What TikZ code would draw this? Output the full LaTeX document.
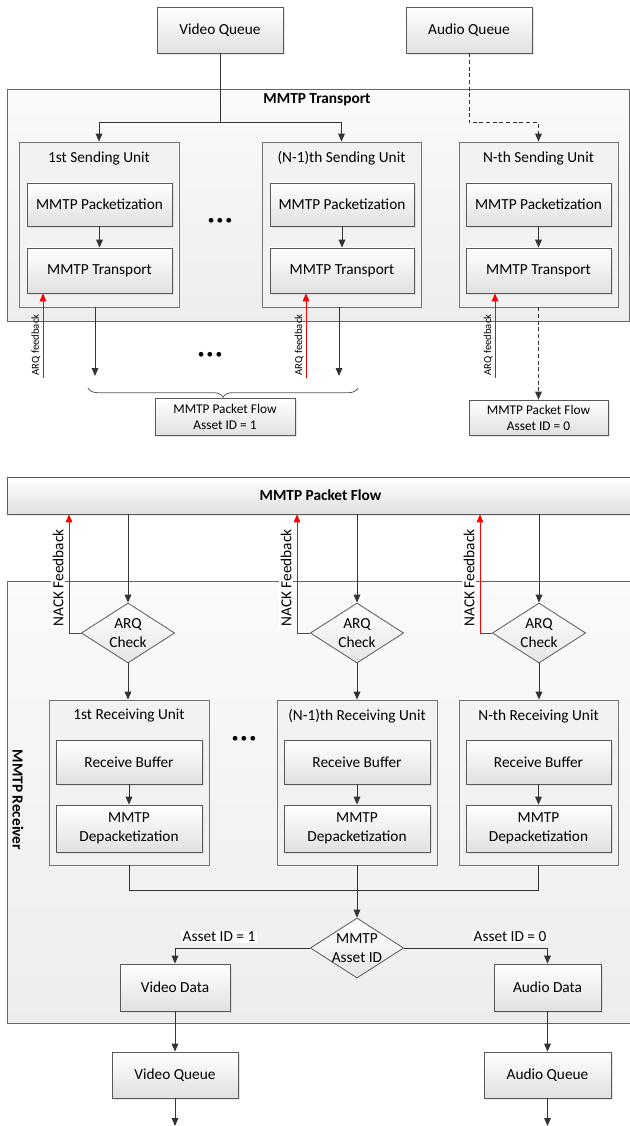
\documentclass[tikz,border=0pt]{standalone}
\usepackage{fontspec}
\setmainfont{Carlito}
\usetikzlibrary{arrows.meta,shapes.geometric,decorations.pathreplacing,shadows}
\newcommand{\mainsize}{\fontsize{11.5}{14}\selectfont}
\newcommand{\smallsize}{\fontsize{10}{12}\selectfont}
\newcommand{\tinysize}{\fontsize{8}{9}\selectfont}

\begin{document}
\begin{tikzpicture}[x=0.75pt,y=-0.75pt,line width=0.6pt,
		every node/.style={font=\mainsize},
		boxsize/.style 2 args={minimum width=#1*0.75pt,minimum height=#2*0.75pt},
		container/.style={draw=black!60,top color=black!2,bottom color=black!7,inner sep=0pt},
		unit/.style={draw=black!55,fill=black!5,inner sep=0pt},
		block/.style={draw=black!65,top color=white,bottom color=black!12,inner sep=0pt,align=center,
			drop shadow={shadow xshift=1.2pt,shadow yshift=-1.2pt,fill=black!20}},
		check/.style={diamond,draw=black!65,top color=white,bottom color=black!10,inner sep=0pt,
			minimum width=70pt,minimum height=45pt},
		link/.style={draw=black!80,line width=0.75pt},
		flow/.style={link,-{Triangle[length=6pt,width=5pt]}},
		dashedflow/.style={flow,dash pattern=on 3pt off 2pt},
		feedback/.style={draw=red,line width=0.75pt,-{Triangle[length=6pt,width=5pt]}},
		tag/.style={fill=white,inner sep=1pt},
		sidetext/.style={rotate=90,fill=white,inner sep=1pt},
		groupbrace/.style={draw=black!65,decorate,decoration={brace,mirror,amplitude=7pt}}]
	\useasboundingbox (0,0) rectangle (630,1126);

	\node [block, boxsize={126}{46}] (vqin) at (220,30) {Video Queue};
	\node [block, boxsize={126}{46}] (aqin) at (469,30) {Audio Queue};
	\node [container, boxsize={622}{232}] (tx) at (318,205) {};
	\node [font=\mainsize\bfseries] (txt) at (317,100) {MMTP Transport};

	\node [unit, boxsize={160}{165}] (su1) at (99,224.5) {};			\node (su1t) at (99,158) {1st Sending Unit};
	\node [block, boxsize={145}{43}] (su1p) at (99.5,204.5) {MMTP Packetization};
	\node [block, boxsize={145}{45}] (su1r) at (99.5,270.5) {MMTP Transport};

	\node [unit, boxsize={159}{165}] (su2) at (341.5,224.5) {};		\node (su2t) at (341.5,158) {(N-1)th Sending Unit};
	\node [block, boxsize={144}{43}] (su2p) at (342,204.5) {MMTP Packetization};
	\node [block, boxsize={144}{45}] (su2r) at (342,270.5) {MMTP Transport};

	\node [unit, boxsize={159}{165}] (su3) at (538.5,224.5) {};		\node (su3t) at (538.5,158) {N-th Sending Unit};
	\node [block, boxsize={145}{43}] (su3p) at (538.5,204.5) {MMTP Packetization};
	\node [block, boxsize={145}{45}] (su3r) at (538.5,270.5) {MMTP Transport};

	\node [font=\smallsize] (dots1) at (220,221) {\textbullet\,\textbullet\,\textbullet};
	\node [font=\smallsize] (dots2) at (210,355) {\textbullet\,\textbullet\,\textbullet};

	\draw [flow] (su1p) -- (su1r);	\draw [flow] (su2p) -- (su2r);	\draw [flow] (su3p) -- (su3r);

	\coordinate (vsplit) at (220,123);	\coordinate (asplit) at (469,123);
	\draw [link] (vqin.south) -- (vsplit);
	\draw [flow] (vsplit) -| (su1.north);
	\draw [flow] (vsplit) -| (su2.north);
	\draw [dashedflow] (aqin.south) -- (asplit) -| (su3.north);

	\node [block, font=\smallsize, boxsize={140}{37}] (pf1) at (225,416.5) {MMTP Packet Flow\\Asset ID = 1};
	\node [block, font=\smallsize, boxsize={139}{35}] (pf0) at (538.5,417.5) {MMTP Packet Flow\\Asset ID = 0};

	\coordinate (out1) at (95,376);		\draw [flow] (su1.south -| out1) -- (out1);
	\coordinate (out2) at (339,376);	\draw [flow] (su2.south -| out2) -- (out2);
	\draw [dashedflow] (su3.south) -- (pf0.north);

	\coordinate (brl) at (88,388);	\coordinate (brr) at (358,388);
	\draw [groupbrace] (brl) -- (brr);

	\coordinate (fb1) at (43,378);	\draw [feedback] (fb1) -- (fb1 |- su1r.south);
	\coordinate (fb2) at (306,378);	\draw [feedback] (fb2) -- (fb2 |- su2r.south);
	\coordinate (fb3) at (495,378);	\draw [feedback] (fb3) -- (fb3 |- su3r.south);
	\node [rotate=90, font=\tinysize] (fb1t) at (36,345) {ARQ feedback};
	\node [rotate=90, font=\tinysize] (fb2t) at (299,345) {ARQ feedback};
	\node [rotate=90, font=\tinysize] (fb3t) at (488,345) {ARQ feedback};

	\node [block, font=\mainsize\bfseries, boxsize={627}{37}] (pflow) at (320.5,495.5) {MMTP Packet Flow};
	\node [container, boxsize={627}{442}] (rx) at (320.5,802) {};
	\node [font=\mainsize\bfseries, rotate=-90] (rxt) at (18,800) {MMTP Receiver};

	\node [check, label={[align=center]center:{ARQ\\Check}}] (chk1) at (128,633) {};
	\node [check, label={[align=center]center:{ARQ\\Check}}] (chk2) at (357,633) {};
	\node [check, label={[align=center]center:{ARQ\\Check}}] (chk3) at (539,633) {};
	\draw [flow] (pflow.south -| chk1) -- (chk1.north);
	\draw [flow] (pflow.south -| chk2) -- (chk2.north);
	\draw [flow] (pflow.south -| chk3) -- (chk3.north);

	\coordinate (nk1) at (69,0);	\draw [feedback] (chk1.west) -| (pflow.south -| nk1);
	\coordinate (nk2) at (297,0);	\draw [feedback] (chk2.west) -| (pflow.south -| nk2);
	\coordinate (nk3) at (480,0);	\draw [feedback] (chk3.west) -| (pflow.south -| nk3);
	\node [sidetext] (nk1t) at (58,578) {NACK Feedback};
	\node [sidetext] (nk2t) at (286,578) {NACK Feedback};
	\node [sidetext] (nk3t) at (469,578) {NACK Feedback};

	\node [unit, boxsize={160}{165}] (ru1) at (129,782.5) {};			\node (ru1t) at (129,716) {1st Receiving Unit};
	\node [block, boxsize={146}{44}] (ru1b) at (129,762) {Receive Buffer};
	\node [block, boxsize={146}{47}] (ru1d) at (129,828.5) {MMTP\\Depacketization};

	\node [unit, boxsize={160}{165}] (ru2) at (357,782.5) {};			\node (ru2t) at (357,716) {(N-1)th Receiving Unit};
	\node [block, boxsize={146}{44}] (ru2b) at (357,762) {Receive Buffer};
	\node [block, boxsize={146}{47}] (ru2d) at (357,828.5) {MMTP\\Depacketization};

	\node [unit, boxsize={159}{165}] (ru3) at (538.5,782.5) {};		\node (ru3t) at (538.5,716) {N-th Receiving Unit};
	\node [block, boxsize={145}{44}] (ru3b) at (538.5,762) {Receive Buffer};
	\node [block, boxsize={145}{47}] (ru3d) at (538.5,828.5) {MMTP\\Depacketization};

	\node [font=\smallsize] (dots3) at (244,739) {\textbullet\,\textbullet\,\textbullet};

	\draw [flow] (chk1.south) -- (chk1.south |- ru1.north);
	\draw [flow] (chk2.south) -- (chk2.south |- ru2.north);
	\draw [flow] (chk3.south) -- (chk3.south |- ru3.north);
	\draw [flow] (ru1b) -- (ru1d);	\draw [flow] (ru2b) -- (ru2d);	\draw [flow] (ru3b) -- (ru3d);

	\node [check, label={[align=center]center:{MMTP\\Asset ID}}] (asset) at (357,948) {};
	\coordinate (merge) at (357,890);
	\draw [link] (ru1.south) |- (merge);
	\draw [link] (ru3.south) |- (merge);
	\draw [flow] (ru2.south) -- (asset.north);

	\node [block, boxsize={110}{47}] (vdat) at (175,987.5) {Video Data};
	\node [block, boxsize={107}{47}] (adat) at (547.5,987.5) {Audio Data};
	\draw [flow] (asset.west) -| (vdat.north);
	\draw [flow] (asset.east) -| (adat.north);
	\node [tag] (id1) at (219,937) {Asset ID = 1};
	\node [tag] (id0) at (510,937) {Asset ID = 0};

	\node [block, boxsize={126}{46}] (vqout) at (175,1075) {Video Queue};
	\node [block, boxsize={127}{46}] (aqout) at (547.5,1075) {Audio Queue};
	\draw [flow] (vdat) -- (vqout);	\draw [flow] (adat) -- (aqout);
	\coordinate (vend) at (175,1126);	\draw [flow] (vqout) -- (vend);
	\coordinate (aend) at (547.5,1126);	\draw [flow] (aqout) -- (aend);
\end{tikzpicture}
\end{document}
